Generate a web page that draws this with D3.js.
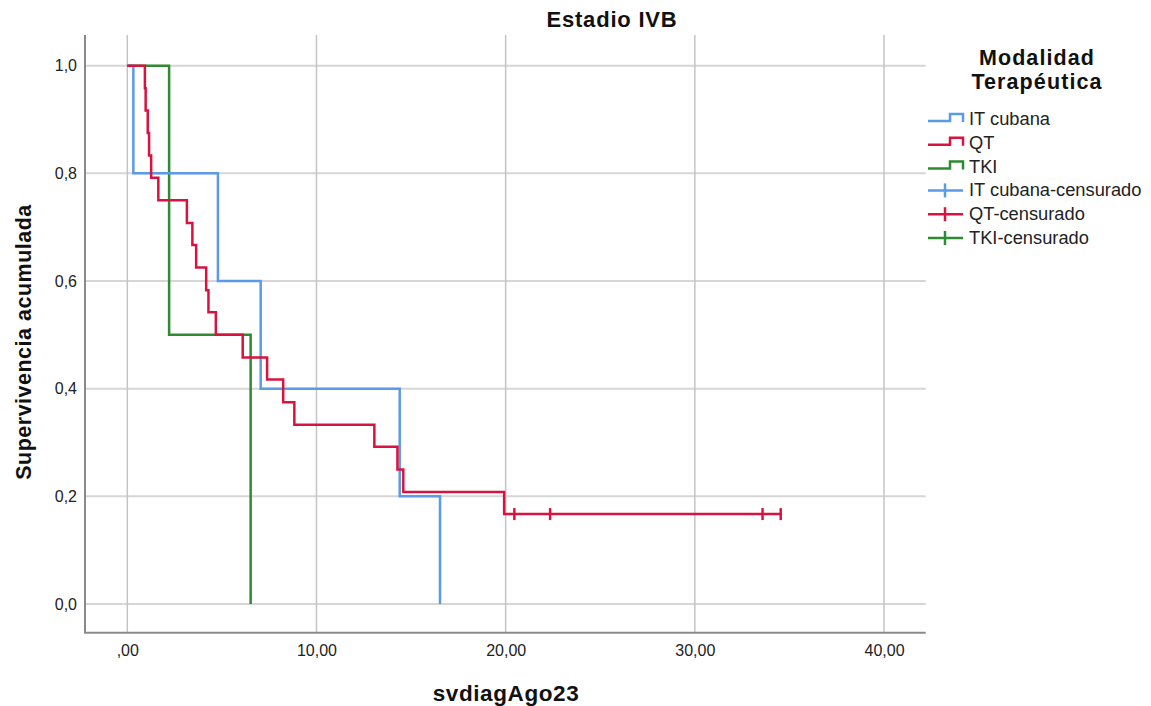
<!DOCTYPE html>
<html>
<head>
<meta charset="utf-8">
<script src="https://cdn.jsdelivr.net/npm/d3@7"></script>
<style>
  html, body { margin: 0; padding: 0; background: #fff; }
  svg { display: block; font-family: "Liberation Sans", Arial, sans-serif; }
</style>
</head>
<body>
<svg id="chart" width="1151" height="706"></svg>
<script>
// ---- Data ----
const title = "Estadio IVB";
const xLabel = "svdiagAgo23";
const yLabel = "Supervivencia acumulada";
const legendTitle = ["Modalidad", "Terapéutica"];

const groups = ["IT cubana", "QT", "TKI"];
const groupColors = ["#5b9ae6", "#d8133f", "#2e8b32"];

// event times and cumulative survival after each event
const itTimes = [0.32, 4.79, 7.05, 14.40, 16.53];
const itSurv  = [0.800, 0.600, 0.400, 0.200, 0.000];

const qtTimes = [0.93, 0.97, 1.08, 1.15, 1.26, 1.64, 3.15, 3.44, 3.64, 4.17,
                 4.29, 4.68, 6.10, 7.39, 8.24, 8.83, 13.06, 14.28, 14.59, 19.92];
const qtSurv  = [0.958, 0.917, 0.875, 0.833, 0.792, 0.750, 0.708, 0.667, 0.625, 0.583,
                 0.542, 0.500, 0.458, 0.417, 0.375, 0.333, 0.292, 0.250, 0.208, 0.167];

const tkiTimes = [2.21, 6.52];
const tkiSurv  = [0.500, 0.000];

// censored observations
const qtCensTimes = [20.46, 22.35, 33.58, 34.54];
const qtCensSurv  = [0.167, 0.167, 0.167, 0.167];

const xTicks = [0, 10, 20, 30, 40];
const xTickLabels = [",00", "10,00", "20,00", "30,00", "40,00"];
const yTicks = [0, 0.2, 0.4, 0.6, 0.8, 1.0];
const yTickLabels = ["0,0", "0,2", "0,4", "0,6", "0,8", "1,0"];

const legendLabels = ["IT cubana", "QT", "TKI", "IT cubana-censurado", "QT-censurado", "TKI-censurado"];

// ---- Layout ----
const svg = d3.select("#chart");
const plot = { left: 85, right: 925.7, top: 35, bottom: 632.7 };

const x = d3.scaleLinear().domain([0, 40]).range([127.3, 884]);
const y = d3.scaleLinear().domain([0, 1]).range([604, 65.7]);

// gridlines
const grid = svg.append("g");
grid.selectAll("line.h").data(yTicks).join("line")
  .attr("x1", plot.left).attr("x2", plot.right)
  .attr("y1", d => y(d)).attr("y2", d => y(d))
  .attr("stroke", "#d6d6d6").attr("stroke-width", 2);
grid.selectAll("line.v").data(xTicks).join("line")
  .attr("x1", d => x(d)).attr("x2", d => x(d))
  .attr("y1", plot.top).attr("y2", plot.bottom)
  .attr("stroke", "#c4c4c4").attr("stroke-width", 1.5);

// axes
const xAxis = d3.axisBottom(x).tickValues(xTicks)
  .tickFormat((d, i) => xTickLabels[i]).tickSize(0).tickPadding(12);
const gx = svg.append("g").attr("transform", `translate(0,${plot.bottom})`).call(xAxis);
gx.select(".domain").remove();
gx.selectAll("text").attr("font-size", 16).attr("fill", "#222")
  .attr("font-family", "Liberation Sans, Arial, sans-serif");

const yAxis = d3.axisLeft(y).tickValues(yTicks)
  .tickFormat((d, i) => yTickLabels[i]).tickSize(0).tickPadding(8);
const gy = svg.append("g").attr("transform", `translate(${plot.left},0)`).call(yAxis);
gy.select(".domain").remove();
gy.selectAll("text").attr("font-size", 16).attr("fill", "#222")
  .attr("font-family", "Liberation Sans, Arial, sans-serif");

svg.append("line").attr("x1", plot.left).attr("x2", plot.left)
  .attr("y1", plot.top).attr("y2", plot.bottom)
  .attr("stroke", "#8a8a8a").attr("stroke-width", 2);
svg.append("line").attr("x1", plot.left - 1).attr("x2", plot.right)
  .attr("y1", plot.bottom).attr("y2", plot.bottom)
  .attr("stroke", "#8a8a8a").attr("stroke-width", 2);

// ---- KM curves ----
function kmPoints(times, surv, endTime) {
  const pts = [[0, 1]];
  times.forEach((t, i) => pts.push([t, surv[i]]));
  if (endTime !== undefined) pts.push([endTime, surv[surv.length - 1]]);
  return pts;
}
const line = d3.line().x(d => x(d[0])).y(d => y(d[1])).curve(d3.curveStepAfter);

const curves = [
  { pts: kmPoints(tkiTimes, tkiSurv), color: groupColors[2] },
  { pts: kmPoints(itTimes, itSurv), color: groupColors[0] },
  { pts: kmPoints(qtTimes, qtSurv, d3.max(qtCensTimes)), color: groupColors[1] }
];
svg.append("g").selectAll("path").data(curves).join("path")
  .attr("d", d => line(d.pts))
  .attr("fill", "none").attr("stroke", d => d.color)
  .attr("stroke-width", 2.5).attr("stroke-linejoin", "miter");

// censor marks
svg.append("g").selectAll("line").data(qtCensTimes.map((t, i) => [t, qtCensSurv[i]])).join("line")
  .attr("x1", d => x(d[0])).attr("x2", d => x(d[0]))
  .attr("y1", d => y(d[1]) - 6).attr("y2", d => y(d[1]) + 6)
  .attr("stroke", groupColors[1]).attr("stroke-width", 2.5);

// ---- Titles ----
svg.append("text").attr("x", 612).attr("y", 27).attr("text-anchor", "middle")
  .attr("font-size", 22).attr("font-weight", "bold").attr("letter-spacing", 0.8)
  .attr("fill", "#111").text(title);
svg.append("text").attr("x", 506).attr("y", 701).attr("text-anchor", "middle")
  .attr("font-size", 22.5).attr("font-weight", "bold").attr("letter-spacing", 0.6)
  .attr("fill", "#111").text(xLabel);
svg.append("text").attr("transform", "translate(31,342) rotate(-90)").attr("text-anchor", "middle")
  .attr("font-size", 21.5).attr("font-weight", "bold").attr("letter-spacing", 0.5)
  .attr("fill", "#111").text(yLabel);

// ---- Legend ----
const lg = svg.append("g");
lg.selectAll("text.lt").data(legendTitle).join("text")
  .attr("x", 1037).attr("y", (d, i) => 65 + i * 23.5).attr("text-anchor", "middle")
  .attr("font-size", 21.5).attr("font-weight", "bold").attr("letter-spacing", 1.1)
  .attr("fill", "#111").text(d => d);

const rowY = i => 119 + i * 23.8;
const items = lg.selectAll("g.item").data(legendLabels).join("g")
  .attr("transform", (d, i) => `translate(0,${rowY(i)})`);
items.each(function (d, i) {
  const g = d3.select(this);
  const color = groupColors[i % 3];
  if (i < 3) {
    g.append("path").attr("d", "M928,2 H950 V-5 H963 V3")
      .attr("fill", "none").attr("stroke", color).attr("stroke-width", 2.5);
  } else {
    g.append("line").attr("x1", 928).attr("x2", 963).attr("y1", 0).attr("y2", 0)
      .attr("stroke", color).attr("stroke-width", 2.5);
    g.append("line").attr("x1", 945).attr("x2", 945).attr("y1", -7).attr("y2", 7)
      .attr("stroke", color).attr("stroke-width", 2.5);
  }
  g.append("text").attr("x", 969).attr("y", 6).attr("font-size", 18.3)
    .attr("fill", "#222").text(d);
});
</script>
</body>
</html>
